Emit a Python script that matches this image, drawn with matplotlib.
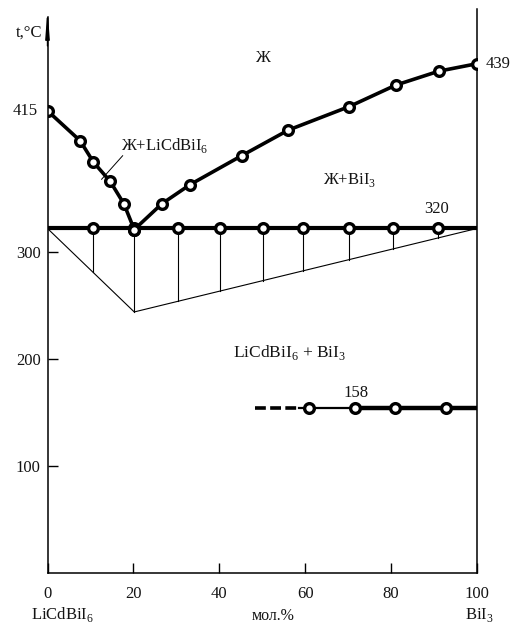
#!/usr/bin/env python3
import matplotlib
matplotlib.use('Agg')
import matplotlib.pyplot as plt

plt.rcParams['font.family'] = ['Liberation Serif', 'DejaVu Serif']
plt.rcParams['mathtext.fontset'] = 'custom'
plt.rcParams['mathtext.rm'] = 'Liberation Serif'

# liquidus, LiCdBiI6 side (mol.% BiI3, t C as drawn)
left_x = [0, 7.6, 10.7, 14.6, 17.8, 20.2]
left_t = [432, 404, 384, 366, 345, 321]
# liquidus, BiI3 side
right_x = [20.2, 26.6, 33.2, 45.2, 56.1, 70.3, 81.1, 91.1, 100]
right_t = [321, 345, 363, 390, 414, 436, 456, 469, 476]
# eutectic horizontal (320)
eut_t = 322
eut_x = [10.5, 20.2, 30.5, 40.2, 50.2, 59.4, 70.3, 80.5, 91.0]
# Tammann triangle
tam_x = [0, 20.2, 100]
tam_t = [322, 244, 322]
# 158 line
low_t = 154.5
low_x = [61.0, 71.6, 80.9, 92.8]
low_dash = [48.3, 58.5]

xticks = [0, 20, 40, 60, 80, 100]
yticks = [100, 200, 300]

ink = '#141414'

fig = plt.figure(figsize=(5.18, 6.24), dpi=100)
ax = fig.add_axes([0.0917, 0.0817, 0.829, 0.9088])
ax.set_xlim(0, 100)
ax.set_ylim(0, 530)

for s in ['top', 'right']:
    ax.spines[s].set_visible(False)
ax.spines['left'].set_linewidth(1.1)
ax.spines['bottom'].set_linewidth(1.1)
ax.spines['left'].set_bounds(0, 520)
ax.spines['bottom'].set_bounds(0, 100)

# right vertical boundary
ax.plot([100, 100], [0, 527], color='black', lw=1.1, clip_on=False)

# arrow on temperature axis
ax.annotate('', xy=(0, 530), xytext=(0, 490), annotation_clip=False,
            arrowprops=dict(arrowstyle='-|>,head_width=0.12,head_length=1.6',
                            color='black', lw=1.0))

ax.set_xticks(xticks)
ax.set_yticks(yticks)
ax.tick_params(direction='in', length=7, width=1.0, colors='black',
               labelsize=12, labelcolor=ink)
ax.tick_params(axis='x', pad=9)
ax.tick_params(axis='y', pad=5)

# Tammann triangle + verticals
ax.plot(tam_x, tam_t, color='black', lw=0.8)
for xv in eut_x:
    if xv <= tam_x[1]:
        tb = tam_t[0] + (tam_t[1] - tam_t[0]) * xv / tam_x[1]
    else:
        tb = tam_t[1] + (tam_t[2] - tam_t[1]) * (xv - tam_x[1]) / (tam_x[2] - tam_x[1])
    ax.plot([xv, xv], [eut_t, tb], color='black', lw=0.8)

mk = dict(marker='o', ms=7, mfc='white', mec='black', mew=2.4)

# eutectic line
ax.plot([0, 100], [eut_t, eut_t], color='black', lw=3.0, solid_capstyle='butt')
ax.plot(eut_x, [eut_t] * len(eut_x), ls='none', **mk)

# liquidus
ax.plot(left_x, left_t, color='black', lw=2.6, **mk)
ax.plot(right_x, right_t, color='black', lw=2.6, **mk)

# 158 line
ax.plot(low_dash, [low_t, low_t], color='black', lw=2.6, ls=(0, (3, 1.2)))
ax.plot([low_dash[1], low_x[1]], [low_t, low_t], color='black', lw=1.6)
ax.plot([low_x[1], 100], [low_t, low_t], color='black', lw=3.2, solid_capstyle='butt')
ax.plot(low_x, [low_t] * len(low_x), ls='none', **mk)

# phase labels
fs = 12
ax.text(50, 481, 'Ж', ha='center', va='center', fontsize=fs, color=ink)
ax.text(17, 400, r'Ж+LiCdBiI$_\mathrm{6}$', ha='left', va='center', fontsize=fs, color=ink)
ax.plot([17.5, 12.6], [390, 368], color='black', lw=0.7)
ax.text(70.4, 367, r'Ж+BiI$_\mathrm{3}$', ha='center', va='center', fontsize=fs, color=ink)
ax.text(90.7, 340, '320', ha='center', va='center', fontsize=fs, color=ink)
ax.text(56.4, 206, r'LiCdBiI$_\mathrm{6}$ + BiI$_\mathrm{3}$', ha='center', va='center',
        fontsize=12.5, color=ink)
ax.text(71.8, 168, '158', ha='center', va='center', fontsize=fs, color=ink)
ax.text(-2.2, 432, '415', ha='right', va='center', fontsize=fs, color=ink)
ax.text(102, 476, '439', ha='left', va='center', fontsize=fs, color=ink)
ax.text(-1.3, 505, 't,°C', ha='right', va='center', fontsize=fs, color=ink)

# composition labels
ax.text(3.5, -39, r'LiCdBiI$_\mathrm{6}$', ha='center', va='center', fontsize=fs, color=ink)
ax.text(52.5, -40, 'мол.%', ha='center', va='center', fontsize=11.5, color=ink)
ax.text(100.5, -39, r'BiI$_\mathrm{3}$', ha='center', va='center', fontsize=fs, color=ink)

fig.savefig('out.png', dpi=100)
